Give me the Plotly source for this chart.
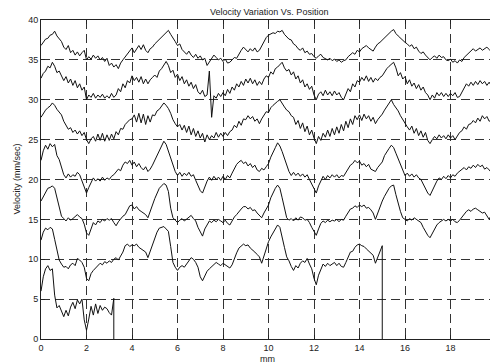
import plotly.graph_objects as go

# Sample positions along the travel (mm), 0.1 mm spacing
x_mm = [round(0.1 * i, 1) for i in range(201)]

run1 = [36.8, 37.2, 37.6, 37.7, 38.1, 38.2, 38.6, 38.0, 37.6, 37.3,
        36.6, 36.3, 36.8, 35.9, 36.2, 35.6, 36.0, 35.5, 35.9, 36.2,
        35.0, 35.4, 35.1, 35.6, 35.2, 35.5, 35.0, 35.3, 34.8, 35.2,
        34.3, 34.6, 34.1, 34.4, 33.9, 34.6, 35.0, 35.4, 35.8, 36.2,
        36.5, 35.9, 36.4, 36.8, 36.3, 36.9, 36.2, 35.9, 36.4, 36.6,
        37.0, 37.3, 37.6, 37.9, 38.1, 38.4, 38.7, 38.2, 37.8, 37.3,
        36.8, 37.0, 36.3, 36.0, 35.7, 36.1, 35.6, 35.3, 35.7, 35.2,
        35.5, 35.0, 35.2, 34.3, 34.7, 35.1, 35.6, 35.3, 35.0, 35.2,
        34.8, 35.1, 34.6, 34.7, 35.0, 35.3, 35.2, 35.8, 36.2, 36.6,
        36.3, 36.0, 36.4, 36.1, 36.5, 36.0, 36.2, 36.8, 37.3, 37.8,
        38.1, 38.3, 38.4, 38.3, 38.6, 38.5, 38.7, 38.2, 37.9, 37.6,
        37.5, 37.0, 36.8, 36.4, 36.2, 36.5, 35.9, 36.1, 35.7, 35.8,
        35.4, 35.2, 35.5, 35.7, 35.3, 35.1, 35.0, 35.2, 34.9, 35.1,
        34.8, 35.0, 34.7, 34.9, 35.0, 35.4, 35.6, 35.9, 35.7, 36.2,
        36.0, 36.4, 36.6, 36.8, 36.5, 36.3, 36.1, 36.6, 37.0, 37.2,
        37.5, 37.8, 38.1, 38.4, 38.6, 38.8, 38.3, 38.0, 37.7, 37.4,
        37.2, 37.0, 36.7, 36.9, 36.4, 36.6, 36.1, 35.8, 36.0, 35.6,
        35.3, 35.0, 35.3, 35.5, 35.2, 35.6, 35.3, 35.4, 35.0, 34.9,
        35.1, 34.7, 34.9, 34.6, 35.0, 34.8, 35.3, 35.6, 35.9, 36.2,
        36.4, 36.1, 36.3, 36.5, 36.2, 36.4, 36.6, 36.3, 36.0, 36.1,
        36.5]

run2 = [32.7, 33.3, 33.6, 34.2, 34.0, 34.7, 34.2, 33.4, 33.6, 32.9,
        32.4, 32.9, 32.1, 32.6, 31.8, 32.4, 31.5, 32.0, 31.2, 31.6,
        30.0, 30.6, 30.3, 30.8, 30.2, 30.6, 30.3, 30.7, 30.2, 30.5,
        30.2, 30.8, 30.3, 30.6, 31.4, 31.0, 32.0, 31.5, 32.4, 32.1,
        33.0, 32.4, 32.8, 32.2, 32.9, 32.0, 32.6, 32.0, 32.5, 32.8,
        33.1, 32.8, 33.6, 33.9, 34.3, 34.8, 34.3, 33.4, 33.7, 32.8,
        33.2, 32.4, 32.9, 32.0, 32.5, 31.7, 32.2, 31.4, 31.9, 31.0,
        30.7, 31.2, 30.4, 30.6, 33.6, 27.8, 30.5, 30.2, 30.8, 30.4,
        30.9, 30.5, 31.3, 30.8, 31.6, 31.2, 32.0, 31.6, 32.3, 31.8,
        32.6, 32.1, 32.7, 32.0, 32.5, 31.8, 32.3, 31.9, 32.6, 33.0,
        32.8, 33.5, 33.2, 33.9, 34.1, 34.4, 34.7, 34.0, 33.6, 33.8,
        33.1, 33.5, 32.6, 33.0, 32.1, 32.5, 31.6, 32.0, 31.3, 31.7,
        30.6, 30.0, 30.7, 31.0, 30.5, 31.2, 30.6, 31.0, 30.5, 31.1,
        30.6, 30.9, 30.3, 30.0, 30.8, 31.4, 31.0, 32.0, 31.6, 32.4,
        32.2, 32.8, 32.4, 33.0, 32.3, 32.8, 32.2, 32.7, 32.4, 32.8,
        33.0, 33.5, 33.9, 34.2, 34.4, 34.7, 34.0, 33.0, 33.4, 32.6,
        32.9, 32.0, 32.5, 31.7, 32.1, 31.4, 31.9, 31.2, 31.6, 30.9,
        30.6, 30.0, 30.6, 30.2, 30.9, 30.5, 30.9, 30.4, 30.8, 30.4,
        30.8, 30.5, 30.9, 30.3, 30.4, 30.9, 31.4, 32.0, 31.7, 32.2,
        31.8, 32.3, 31.9, 32.4, 32.0, 32.3, 31.8, 32.2, 31.7, 32.0,
        32.4]

run3 = [27.8, 28.3, 28.7, 29.0, 29.2, 29.6, 29.3, 28.8, 28.5, 28.1,
        27.3, 26.7, 26.3, 26.5, 25.9, 26.2, 25.7, 26.1, 25.5, 25.9,
        25.0, 24.5, 25.1, 25.4, 24.8, 25.7, 24.9, 25.8, 24.8, 25.6,
        24.9, 25.7, 25.1, 26.0, 25.6, 26.4, 26.3, 26.9, 27.2, 27.5,
        27.6, 28.1, 27.2, 28.3, 27.1, 28.2, 26.9, 28.0, 27.2, 28.1,
        28.0, 28.6, 28.8, 29.2, 29.6, 29.3, 28.9, 28.3, 27.5, 27.0,
        26.6, 26.9, 26.2, 26.8, 25.9, 26.7, 25.6, 26.4, 25.4, 26.1,
        25.2, 25.8, 24.7, 25.6, 25.0, 25.5, 25.2, 25.9, 25.3, 25.8,
        25.4, 25.9, 25.5, 26.0, 26.2, 26.8, 26.5, 27.3, 26.8, 27.6,
        27.5, 28.0, 27.6, 27.9, 27.3, 27.6, 27.0, 27.6, 28.1, 28.5,
        28.4, 29.0, 29.3, 29.6, 29.8, 30.0, 29.5, 29.1, 28.7, 28.5,
        28.0, 27.8, 26.9, 27.4, 26.4, 27.1, 26.0, 26.7, 25.6, 26.2,
        25.2, 24.5, 25.4, 24.9, 25.8, 25.3, 26.2, 25.4, 26.4, 25.6,
        26.6, 25.8, 26.9, 26.1, 27.3, 26.5, 27.6, 26.9, 28.0, 27.5,
        28.1, 27.4, 28.2, 27.6, 28.0, 27.3, 27.8, 27.0, 27.5, 27.8,
        28.2, 28.7, 29.1, 29.5, 30.0, 29.4, 29.0, 28.6, 28.0, 27.5,
        27.0, 26.6, 26.2, 26.7, 25.8, 26.4, 25.5, 26.1, 25.3, 25.9,
        24.9, 24.5, 25.0, 25.4, 25.1, 25.6, 25.2, 25.5, 25.1, 25.6,
        25.2, 25.5, 25.0, 25.4, 25.9, 26.1, 26.6, 26.3, 26.9, 27.0,
        27.4, 27.1, 27.7, 27.3, 28.0, 27.6, 27.9, 27.3, 27.5, 27.0,
        27.3]

run4 = [22.4, 23.6, 24.3, 23.8, 24.5, 24.1, 24.4, 23.0, 22.5, 21.6,
        20.6, 20.2, 20.7, 20.3, 20.6, 20.4, 20.9, 20.6, 19.8, 19.2,
        18.3, 19.0, 19.7, 20.2, 19.8, 20.1, 19.8, 20.3, 19.9, 20.2,
        20.0, 20.4, 20.6, 21.0, 21.3, 21.1, 21.8, 22.2, 22.0, 22.4,
        21.8, 22.2, 21.6, 22.0, 21.5, 21.2, 21.6, 21.0, 21.3, 21.8,
        22.4, 23.0, 23.6, 24.1, 24.8, 24.4, 23.6, 22.7, 21.9, 21.0,
        20.5, 20.9, 20.4, 20.8, 20.5, 20.9, 20.4, 20.6, 19.9, 19.3,
        18.6, 18.3, 19.1, 19.8, 20.3, 19.9, 20.4, 20.0, 20.3, 19.9,
        20.4, 20.0, 20.5, 20.2, 20.8, 21.3, 21.9, 22.2, 22.4, 22.0,
        22.2, 21.7, 22.0, 21.5, 21.8, 21.2, 21.0, 21.4, 21.2, 21.6,
        22.0, 22.8, 23.5, 24.0, 24.6, 24.2, 23.5, 22.7, 21.8, 21.0,
        20.5, 20.9, 20.5, 20.8, 20.4, 20.7, 20.3, 20.6, 20.0, 19.4,
        18.8, 18.3, 19.2, 19.9, 20.4, 20.0, 20.5, 20.2, 20.6, 20.3,
        20.6, 20.2, 20.5, 20.4, 20.9, 21.4, 21.8, 22.0, 22.4, 22.1,
        22.3, 21.8, 22.0, 21.6, 21.9, 21.3, 21.1, 21.0, 21.5, 21.8,
        22.2, 23.0, 23.5, 23.9, 24.3, 24.0, 23.3, 22.6, 21.8, 21.0,
        20.5, 20.8, 20.4, 20.7, 20.3, 20.6, 20.2, 20.0, 19.4, 18.8,
        18.3, 18.0, 18.6, 19.3, 19.8, 20.2, 20.0, 20.4, 20.1, 20.5,
        20.2, 20.6, 20.4, 20.8, 21.0, 21.3, 21.5, 21.2, 21.6, 21.4,
        21.8, 21.5, 21.9, 21.6, 21.8, 21.3, 21.5, 21.2, 20.8, 20.5,
        21.0]

run5 = [17.3, 17.9, 18.4, 18.9, 19.0, 19.2, 18.9, 17.6, 16.4, 15.4,
        15.1, 14.8, 15.2, 14.9, 15.1, 15.3, 15.6, 15.3, 15.1, 14.4,
        13.3, 13.0, 13.9, 14.6, 14.3, 14.8, 14.6, 15.0, 14.8, 15.1,
        14.9, 15.1, 14.6, 14.2, 14.7, 15.1, 15.4, 15.6, 16.2, 16.7,
        16.8, 16.3, 16.6, 16.2, 16.0, 15.8, 15.6, 15.2, 15.9, 16.8,
        17.6, 18.3, 18.9, 19.2, 19.5, 19.3, 18.5, 16.4, 15.2, 14.9,
        14.6, 14.9, 15.1, 14.8, 15.0, 15.3, 15.5, 15.1, 14.8, 14.0,
        13.4, 12.9, 13.8, 14.4, 14.8, 14.6, 14.9, 14.7, 15.0, 14.8,
        14.6, 14.9, 14.5, 14.3, 14.8, 15.3, 15.6, 16.0, 16.3, 16.6,
        16.6, 16.3, 16.5, 16.1, 16.2, 15.8, 15.5, 15.2, 15.8, 16.4,
        16.8, 17.7, 18.4, 18.9, 19.3, 18.9, 17.7, 16.6, 15.2, 14.9,
        15.1, 14.8, 15.2, 14.9, 15.3, 15.2, 14.9, 15.0, 14.6, 14.0,
        13.5, 13.0, 13.8, 14.5, 14.8, 14.6, 14.9, 14.7, 14.9, 14.8,
        15.0, 14.7, 15.0, 14.9, 15.4, 15.8, 16.3, 16.4, 16.7, 16.5,
        16.8, 16.6, 16.8, 16.4, 16.5, 16.2, 15.8, 15.0, 15.8, 16.6,
        17.3, 17.9, 18.5, 18.9, 19.2, 19.3, 18.1, 17.0, 16.0, 15.2,
        15.0, 14.8, 15.1, 14.9, 15.2, 15.0, 14.9, 14.6, 14.0, 13.4,
        13.0, 12.7, 13.2, 13.8, 14.3, 14.6, 14.8, 15.0, 14.8, 15.0,
        14.8, 15.0, 14.7, 14.6, 14.9, 15.3, 15.6, 16.0, 16.2, 16.0,
        16.3, 16.4, 16.2, 16.0, 15.8, 15.9, 15.5, 15.0, 15.6, 16.0,
        16.4]

# Run 6 ends at 15.0 mm, run 7 at 3.2 mm (velocity then falls to zero)
run6 = [12.4, 13.4, 13.9, 13.7, 14.0, 13.8, 12.5, 11.0, 9.9, 9.4,
        9.0, 9.1, 8.8, 9.3, 9.5, 9.2, 10.1, 9.9, 9.6, 9.0,
        7.6, 7.3, 8.2, 8.6, 8.9, 9.2, 9.5, 9.3, 9.7, 9.5,
        9.8, 9.6, 10.0, 10.2, 9.9, 10.4, 10.9, 11.7, 11.9, 11.6,
        11.8, 11.7, 11.9, 11.5, 11.3, 11.1, 10.9, 10.2, 11.0, 11.8,
        12.5, 13.4, 13.9, 14.0, 14.1, 13.8, 13.5, 11.6, 9.6, 9.0,
        8.6, 9.0, 9.2, 9.0, 9.4, 9.7, 10.2, 10.0, 9.6, 9.0,
        7.8, 7.3, 8.0, 8.5, 8.8, 9.1, 9.3, 9.6, 9.4, 9.2,
        9.5, 9.3, 9.0, 8.9, 9.3, 10.2, 10.8, 11.4, 11.6, 11.9,
        11.7, 11.8, 11.4, 11.2, 10.9, 10.6, 10.3, 9.5, 10.4, 11.4,
        12.2, 12.8, 13.3, 13.9, 14.3, 14.0, 12.9, 11.5, 10.3, 9.8,
        9.1, 8.6, 9.2, 8.9, 9.5, 9.8, 9.6, 10.1, 9.4, 8.8,
        7.6, 6.8, 8.0, 8.8, 9.4, 9.1, 9.5, 9.2, 9.4, 9.6,
        9.2, 9.5, 9.1, 9.0, 9.6, 10.3, 10.9, 11.0, 11.5, 11.8,
        11.9, 11.7, 11.6, 11.3, 11.0, 10.8, 10.5, 9.5, 10.2, 11.0,
        11.7, 0.0]
run6_end = 15.0

run7 = [6.0, 7.8, 8.8, 9.2, 8.6, 8.8, 5.5, 3.9, 4.2, 3.5,
        2.8, 3.6, 2.9, 4.0, 4.6, 3.8, 4.9, 4.4, 5.0, 2.4,
        1.1, 2.5, 4.1, 3.0, 4.4, 3.2, 4.2, 3.6, 4.0, 3.8,
        3.3, 3.0, 5.1, 0.0]
run7_end = 3.2

x_ticks = [0, 2, 4, 6, 8, 10, 12, 14, 16, 18, 20]
y_ticks = [0, 5, 10, 15, 20, 25, 30, 35, 40]

x6 = x_mm[:len(run6) - 1] + [run6_end]
x7 = x_mm[:len(run7) - 1] + [run7_end]

fig = go.Figure()
for xs, ys in [(x_mm, run1), (x_mm, run2), (x_mm, run3), (x_mm, run4),
               (x_mm, run5), (x6, run6), (x7, run7)]:
    fig.add_trace(go.Scatter(x=xs, y=ys, mode="lines",
                             line=dict(color="#111111", width=1),
                             showlegend=False, hoverinfo="skip"))

font_family = "Liberation Sans, Arial, sans-serif"
txt = "#222222"
# The page body has an 8px default margin, so the figure is sized/offset to match
fig.update_layout(
    width=490, height=356,
    margin=dict(l=33, r=2, t=12, b=25),
    paper_bgcolor="white", plot_bgcolor="white",
    font=dict(family=font_family, size=9, color=txt),
    annotations=[
        dict(text="Velocity Variation Vs. Position", xref="paper", yref="paper",
             x=0.50, y=1, yshift=8, xanchor="center", yanchor="middle",
             showarrow=False, font=dict(size=9, color=txt)),
        dict(text="mm", xref="paper", yref="paper",
             x=0.497, y=0, yshift=-20, xanchor="center", yanchor="middle",
             showarrow=False, font=dict(size=9, color=txt)),
        dict(text="Velocity (mm/sec)", xref="paper", yref="paper",
             x=0, xshift=-25, y=0.5, xanchor="center", yanchor="middle",
             textangle=-90, showarrow=False, font=dict(size=9, color=txt)),
    ],
)
fig.update_xaxes(
    range=[0, 20], tickvals=x_ticks, ticks="inside", ticklen=4, tickcolor=txt,
    showline=True, linecolor=txt, linewidth=1, mirror="ticks",
    showgrid=True, gridcolor="#333333", gridwidth=1, griddash="9px,5px",
    zeroline=False, automargin=False, ticklabeloverflow="allow",
    tickfont=dict(size=9),
)
fig.update_yaxes(
    range=[0, 40], tickvals=y_ticks, ticks="inside", ticklen=4, tickcolor=txt,
    showline=True, linecolor=txt, linewidth=1, mirror="ticks",
    showgrid=True, gridcolor="#333333", gridwidth=1, griddash="9px,5px",
    zeroline=False, automargin=False, ticklabeloverflow="allow",
    tickfont=dict(size=9),
)

fig.write_html("out.html")
